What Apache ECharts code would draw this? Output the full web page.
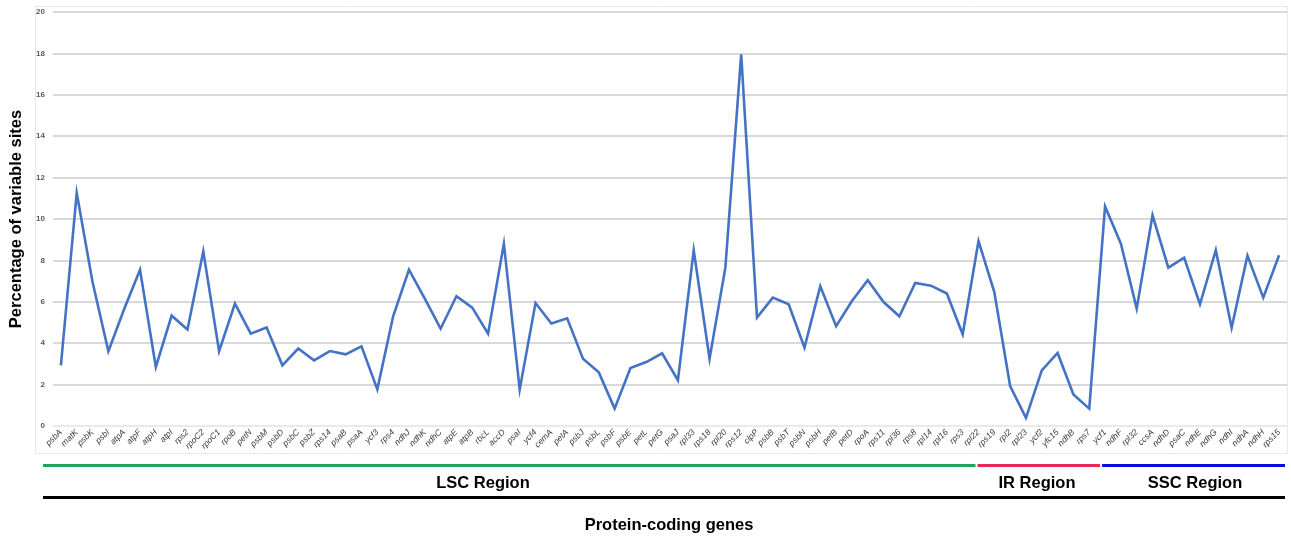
<!DOCTYPE html>
<html>
<head>
<meta charset="utf-8">
<script src="https://cdn.jsdelivr.net/npm/echarts@6/dist/echarts.min.js"></script>
<style>
  html, body { margin: 0; padding: 0; background: #ffffff; }
  #chart { width: 1291px; height: 538px; }
</style>
</head>
<body>
<div id="chart"></div>
<script>
// Protein-coding genes along the plastome, in order (LSC, IR, SSC)
const genes = [
  'psbA','matK','psbK','psbI','atpA','atpF','atpH','atpI','rps2','rpoC2',
  'rpoC1','rpoB','petN','psbM','psbD','psbC','psbZ','rps14','psaB','psaA',
  'ycf3','rps4','ndhJ','ndhK','ndhC','atpE','atpB','rbcL','accD','psaI',
  'ycf4','cemA','petA','psbJ','psbL','psbF','psbE','petL','petG','psaJ',
  'rpl33','rps18','rpl20','rps12','clpP','psbB','psbT','psbN','psbH','petB',
  'petD','rpoA','rps11','rpl36','rps8','rpl14','rpl16','rps3','rpl22',
  'rps19','rpl2','rpl23','ycf2','yfc15','ndhB','rps7','ycf1',
  'ndhF','rpl32','ccsA','ndhD','psaC','ndhE','ndhG','ndhI','ndhA','ndhH','rps15'
];

// Percentage of variable sites per gene
const variableSites = [
  2.93, 11.26, 6.96, 3.61, 5.65, 7.55, 2.85, 5.33, 4.66, 8.44,
  3.61, 5.91, 4.46, 4.76, 2.93, 3.74, 3.17, 3.62, 3.46, 3.85,
  1.77, 5.30, 7.55, 6.15, 4.70, 6.27, 5.72, 4.46, 8.81, 1.76,
  5.94, 4.95, 5.20, 3.25, 2.59, 0.84, 2.80, 3.09, 3.51, 2.21,
  8.49, 3.25, 7.65, 17.96, 5.24, 6.20, 5.88, 3.79, 6.75, 4.82,
  6.04, 7.04, 5.99, 5.30, 6.91, 6.78, 6.40, 4.43, 8.93,
  6.47, 1.93, 0.39, 2.69, 3.53, 1.52, 0.84, 10.61,
  8.81, 5.67, 10.18, 7.65, 8.13, 5.88, 8.49, 4.75, 8.23, 6.20, 8.25
];

// Genome regions: label, first gene of the region, colour
const regionNames = ['LSC Region', 'IR Region', 'SSC Region'];
const regionStarts = ['psbA', 'rps19', 'ndhF'];
const regionColors = ['#1fa65a', '#e8275c', '#0a0ae6'];
const regionLabelX = [483, 1037, 1195];

const yTicks = { min: 0, max: 20, interval: 2 };

const FONT = '"Liberation Sans", Arial, sans-serif';

const chart = echarts.init(document.getElementById('chart'), null, { renderer: 'canvas' });

chart.setOption({
  animation: false,
  backgroundColor: '#ffffff',
  grid: { left: 53, right: 4, top: 12, bottom: 112, containLabel: false },
  xAxis: {
    type: 'category',
    data: genes,
    boundaryGap: true,
    axisLine: { show: true, lineStyle: { color: '#efefef', width: 1.5 } },
    axisTick: { show: false },
    axisLabel: {
      interval: 0,
      rotate: 45,
      margin: 5,
      fontFamily: FONT,
      fontStyle: 'italic',
      fontSize: 8.5,
      color: '#3a3a3a'
    }
  },
  yAxis: {
    type: 'value',
    min: yTicks.min,
    max: yTicks.max,
    interval: yTicks.interval,
    name: 'Percentage of variable sites',
    nameLocation: 'middle',
    nameGap: 28,
    nameTextStyle: { fontFamily: FONT, fontWeight: 'bold', fontSize: 16.5, color: '#000000' },
    axisLine: { show: false },
    axisTick: { show: false },
    axisLabel: { fontFamily: FONT, fontSize: 8, fontWeight: 'bold', color: '#595959', margin: 8 },
    splitLine: { lineStyle: { color: '#d9d9d9', width: 2 } }
  },
  series: [{
    type: 'line',
    data: variableSites,
    symbol: 'none',
    smooth: false,
    lineStyle: { color: '#4472c4', width: 2.6, join: 'miter' },
    z: 3
  }]
});

// Region bars beneath the gene labels, split at the axis position of each region's first gene
function drawRegions() {
  const px = g => chart.convertToPixel({ xAxisIndex: 0 }, g);
  const left = 43, right = 1285;
  const starts = regionStarts.map((g, i) => i === 0 ? left : px(g) - 1);
  const ends = regionStarts.map((g, i) => i < regionStarts.length - 1 ? px(regionStarts[i + 1]) - 3 : right);
  // the LSC bar reaches the last LSC gene, and IR ends at its last gene
  ends[0] = px('rpl22') - 3;
  starts[1] = ends[0] + 2;
  ends[1] = px('ycf1') - 5;
  starts[2] = ends[1] + 2;

  const elements = [
    {
      type: 'rect',
      shape: { x: 35.5, y: 6.5, width: 1252, height: 447 },
      style: { fill: 'none', stroke: '#e8e8e8', lineWidth: 1 },
      silent: true, z: -1
    }
  ];
  regionNames.forEach((name, i) => {
    elements.push({
      type: 'rect',
      shape: { x: starts[i], y: 464, width: ends[i] - starts[i], height: 3 },
      style: { fill: regionColors[i] }
    });
    elements.push({
      type: 'text',
      x: regionLabelX[i], y: 483,
      style: {
        text: name, fontFamily: FONT, fontWeight: 'bold', fontSize: 16.5,
        fill: '#000000', align: 'center', verticalAlign: 'middle'
      }
    });
  });
  elements.push({
    type: 'rect',
    shape: { x: left, y: 496, width: right - left, height: 3 },
    style: { fill: '#000000' }
  });
  elements.push({
    type: 'text',
    x: 669, y: 525,
    style: {
      text: 'Protein-coding genes', fontFamily: FONT, fontWeight: 'bold', fontSize: 16.5,
      fill: '#000000', align: 'center', verticalAlign: 'middle'
    }
  });
  chart.setOption({ graphic: elements });
}
drawRegions();
</script>
</body>
</html>
